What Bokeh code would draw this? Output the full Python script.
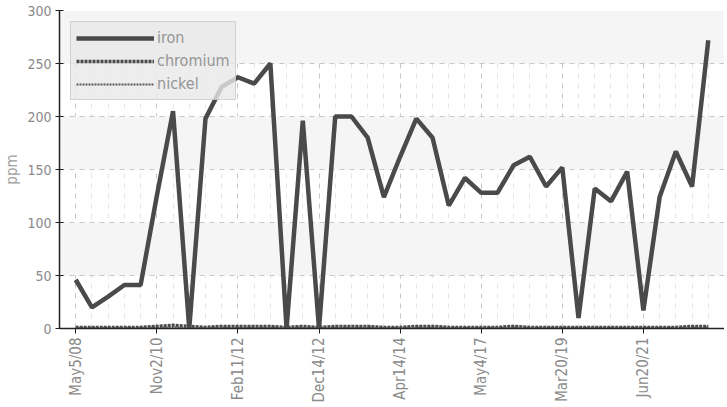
import math
from bokeh.plotting import figure
from bokeh.models import FixedTicker, SingleIntervalTicker, Legend, LegendItem, ColumnDataSource
from bokeh.embed import file_html
from bokeh.resources import INLINE

# ---- data ----
sample_index = list(range(40))
iron = [46, 20, 30, 41, 41, 125, 205, 0, 198, 228, 237, 231, 250, 0, 196, 0,
        200, 200, 180, 124, 162, 198, 180, 116, 142, 128, 128, 154, 162, 134,
        152, 10, 132, 120, 148, 17, 124, 167, 134, 272]
chromium = [1, 1, 1, 1, 1, 2, 3, 2, 1, 2, 2, 2, 2, 1, 2, 1, 2, 2, 2, 1,
            1, 2, 2, 1, 1, 1, 1, 2, 1, 1, 1, 1, 1, 1, 1, 1, 1, 1, 2, 2]
nickel = [0.5, 0.5, 0.5, 0.5, 0.5, 1, 1, 0.5, 0.5, 1, 1, 1, 1, 0.5, 1, 0.5, 1, 1, 1, 0.5,
          0.5, 1, 1, 0.5, 0.5, 0.5, 0.5, 1, 0.5, 0.5, 0.5, 0.5, 0.5, 0.5, 0.5, 0.5, 0.5, 0.5, 1, 1]
tick_positions = [0, 5, 10, 15, 20, 25, 30, 35]
tick_labels = ["May5/08", "Nov2/10", "Feb11/12", "Dec14/12", "Apr14/14",
               "May4/17", "Mar20/19", "Jun20/21"]

FONT = "DejaVu Sans Condensed"
LINE = "#4a4a4a"
TXT = "#8a8a8a"

src = ColumnDataSource(dict(x=sample_index, iron=iron, chromium=chromium, nickel=nickel))

p = figure(width=724, height=405, output_backend="svg", toolbar_location=None,
           x_range=(-1, 40), y_range=(0, 300),
           min_border_left=54, min_border_right=0, min_border_top=10, min_border_bottom=77)
p.outline_line_color = None
p.background_fill_color = "white"

r_iron = p.line("x", "iron", source=src, line_color=LINE, line_width=4.5)
r_cr = p.line("x", "chromium", source=src, line_color=LINE, line_width=3.5, line_dash="3 1")
r_ni = p.line("x", "nickel", source=src, line_color="#5a5a5a", line_width=2, line_dash="2 1")

# x axis
p.xaxis.ticker = FixedTicker(ticks=tick_positions, minor_ticks=sample_index)
p.xaxis.major_label_overrides = {t: l for t, l in zip(tick_positions, tick_labels)}
p.xaxis.major_label_orientation = math.pi / 2
p.xaxis.major_label_text_font = FONT
p.xaxis.major_label_text_font_size = "15px"
p.xaxis.major_label_text_color = TXT
p.xaxis.major_label_standoff = 4
p.xaxis.axis_line_color = "#222222"
p.xaxis.axis_line_width = 1.5
p.xaxis.major_tick_line_color = "#222222"
p.xaxis.major_tick_in = 0
p.xaxis.major_tick_out = 5
p.xaxis.minor_tick_line_color = None

# y axis
p.yaxis.ticker = SingleIntervalTicker(interval=50, num_minor_ticks=0)
p.yaxis.axis_label = "ppm"
p.yaxis.axis_label_text_font = FONT
p.yaxis.axis_label_text_font_style = "normal"
p.yaxis.axis_label_text_font_size = "15px"
p.yaxis.axis_label_text_color = "#a0a0a0"
p.yaxis.axis_label_standoff = 3
p.yaxis.major_label_text_font = FONT
p.yaxis.major_label_text_font_size = "14px"
p.yaxis.major_label_text_color = TXT
p.yaxis.major_label_standoff = 4
p.yaxis.axis_line_color = "#222222"
p.yaxis.axis_line_width = 1.5
p.yaxis.major_tick_line_color = "#222222"
p.yaxis.major_tick_in = 4
p.yaxis.major_tick_out = 4
p.yaxis.minor_tick_line_color = None

# grids
p.xgrid.grid_line_color = "#c8c8c8"
p.xgrid.grid_line_dash = "5 5"
p.xgrid.minor_grid_line_color = "#e6e6e6"
p.xgrid.minor_grid_line_dash = "5 5"
p.ygrid.grid_line_color = "#c8c8c8"
p.ygrid.grid_line_dash = "5 5"
p.ygrid.band_fill_color = "#f5f5f5"
p.ygrid.band_fill_alpha = 1

legend = Legend(items=[LegendItem(label="iron", renderers=[r_iron]),
                       LegendItem(label="chromium", renderers=[r_cr]),
                       LegendItem(label="nickel", renderers=[r_ni])],
                location="top_left", margin=11, padding=5, spacing=2,
                glyph_width=78, glyph_height=16, label_height=21, label_standoff=3,
                label_text_font=FONT, label_text_font_size="16px", label_text_color="#959595",
                background_fill_color="#e8e8e8", background_fill_alpha=0.8,
                border_line_color="#b5b5b5", border_line_width=1)
p.add_layout(legend)

open("out.html", "w").write(file_html(p, INLINE))
